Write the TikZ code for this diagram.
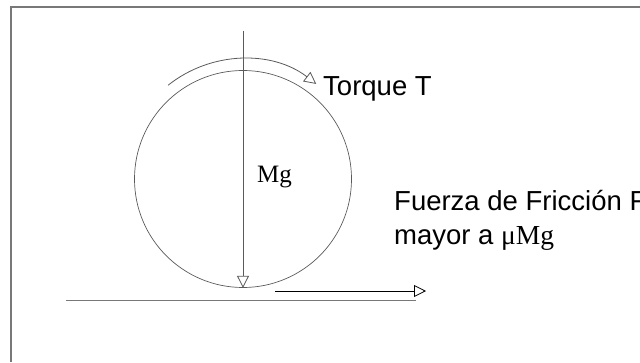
\documentclass[tikz,border=0pt]{standalone}
\usepackage{fontspec}
\setmainfont{Liberation Sans}
\newfontfamily\timesfont{Liberation Serif}
\usetikzlibrary{calc}
\usetikzlibrary{arrows.meta}
\definecolor{framegray}{RGB}{120,120,120}
\definecolor{linegray}{RGB}{90,90,90}

\begin{document}
\begin{tikzpicture}[
        x=1pt, y=1pt,
        frame/.style={draw=framegray, line width=1.3pt},
        ground/.style={draw=framegray, line width=1pt},
        wheelstyle/.style={circle, draw=linegray, line width=0.7pt,
                    minimum size=217pt, inner sep=0pt},
        force/.style={-{Triangle[open, length=12pt, width=12pt]}, line width=0.8pt},
        label/.style={anchor=base west, inner sep=0pt,
                    font=\fontsize{27.5}{33}\selectfont}
    ]
        \useasboundingbox (0,0) rectangle (640,362);
        \draw[frame] (11,0) -- (11,355) -- (640,355);

        \node[wheelstyle] (wheel) at (243,183) {};
        \coordinate (weighttop) at (243,331);
        \coordinate (torquestart) at ($(243,183)+(128.6:120)$);
        \coordinate (groundleft) at (66,62);
        \coordinate (groundright) at (416,62);
        \coordinate (frictionstart) at (275,71);
        \coordinate (frictionend) at (426,71);

        \node[anchor=base west, inner sep=0pt, font=\timesfont\fontsize{25}{28}\selectfont]
            (mg) at (257,179) {Mg};
        \node[label] (torque) at (323,266) {Torque T};
        \node[label, align=left] (friction) at (394,118)
            {Fuerza de Fricción F\\mayor a {\timesfont μMg}};

        \draw[force, draw=linegray] (weighttop) -- (wheel.south);
        \draw[force, draw=linegray] (torquestart) arc[start angle=128.6, end angle=52.4, radius=120];
        \draw[ground] (groundleft) -- (groundright);
        \draw[force] (frictionstart) -- (frictionend);
    \end{tikzpicture}
\end{document}
